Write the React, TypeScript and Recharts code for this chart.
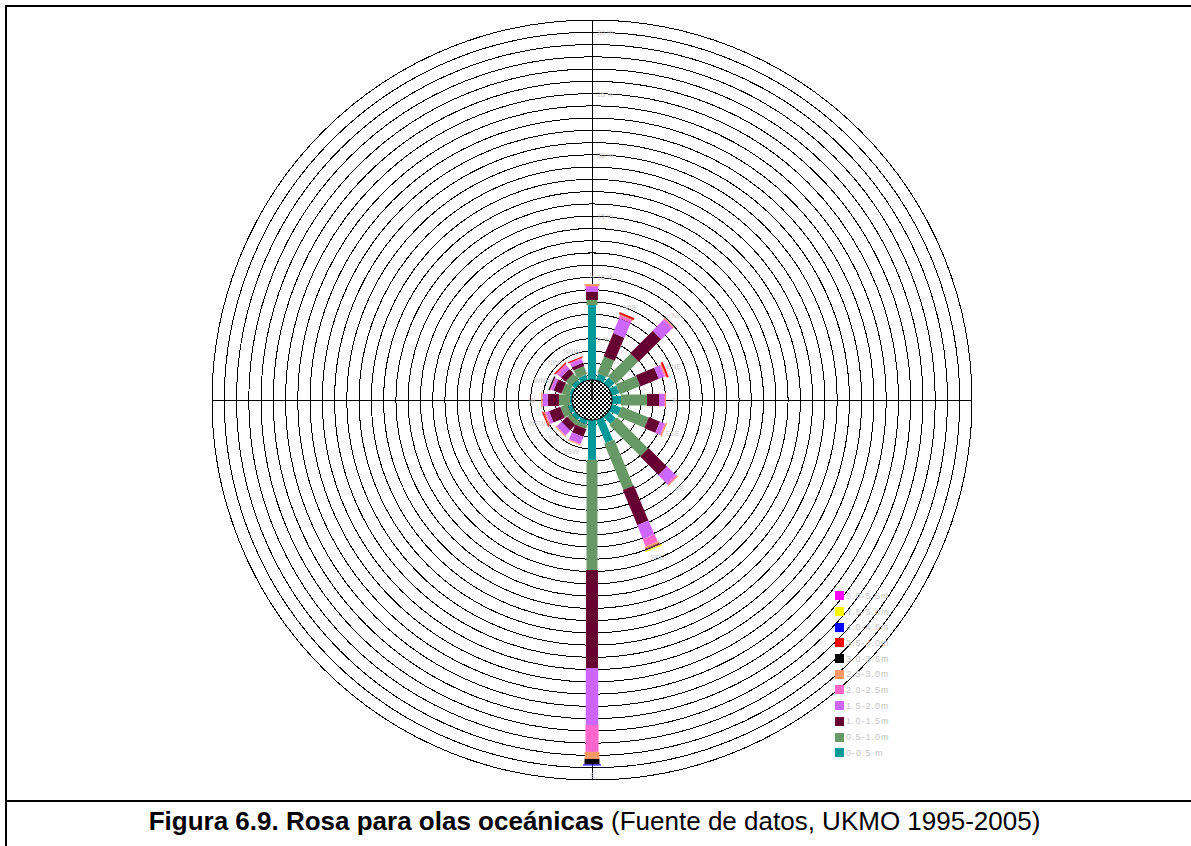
import { RadialBarChart, RadialBar, PolarGrid, PolarAngleAxis, PolarRadiusAxis, Legend, PieChart, Pie } from 'recharts';

// directions, clockwise from north
const directions = ['N', 'NNE', 'NE', 'ENE', 'E', 'ESE', 'SE', 'SSE', 'S', 'SSW', 'SW', 'WSW', 'W', 'WNW', 'NW', 'NNW'];

// frequency (%) per wave height class, one value per direction
const h00_05 = [7.75, 2.2, 2.28, 2.28, 2.37, 2.45, 2.45, 3.67, 4.89, 2.04, 2.0, 2.0, 1.8, 1.9, 2.0, 2.1];
const h05_10 = [0.41, 1.47, 2.61, 1.79, 2.12, 2.37, 3.59, 4.08, 8.98, 0.33, 0.4, 0.6, 0.9, 0.6, 0.6, 0.7];
const h10_15 = [0.65, 2.04, 2.61, 1.63, 0.98, 0.98, 2.12, 3.1, 7.99, 0.69, 0.6, 1.0, 0.9, 0.7, 0.5, 0.3];
const h15_20 = [0.41, 1.3, 1.22, 0.49, 0.41, 0.41, 0.98, 1.22, 4.65, 0.61, 0.55, 0.25, 0.4, 0.2, 0.3, 0.3];
const h20_25 = [0.08, 0.25, 0.16, 0.08, 0.08, 0.08, 0.16, 0.65, 2.2, 0.04, 0.05, 0.1, 0.05, 0.1, 0.2, 0.1];
const h25_30 = [0.16, 0.05, 0.08, 0.08, 0.08, 0.1, 0.08, 0.16, 0.57, 0.08, 0.08, 0.1, 0.1, 0, 0, 0];
const h30_35 = [0, 0.03, 0.08, 0, 0, 0, 0, 0.05, 0.41, 0, 0, 0, 0, 0.1, 0, 0];
const h35_40 = [0, 0.15, 0, 0.16, 0, 0, 0, 0.05, 0.03, 0, 0, 0.1, 0, 0, 0.1, 0.1];
const h40_45 = [0, 0, 0, 0, 0, 0, 0, 0.05, 0.1, 0, 0, 0, 0, 0, 0, 0];
const h45_50 = [0, 0, 0, 0, 0, 0, 0, 0.12, 0, 0, 0, 0, 0, 0, 0, 0];
const h50_55 = [0, 0, 0, 0, 0, 0, 0, 0, 0, 0, 0, 0, 0, 0, 0, 0];

const classNames = ['0-0.5 m', '0.5-1.0m', '1.0-1.5m', '1.5-2.0m', '2.0-2.5m', '2.5-3.0m', '3.0-3.5m', '3.5-4.0m', '4.0-4.5m', '4.5-5.0m', '5.0-5.5m'];
const classColors = ['#009999', '#669966', '#660033', '#CC66FF', '#FF66CC', '#FF9966', '#000000', '#FF0000', '#0000FF', '#FFFF00', '#FF00FF'];
const classWidths = [8, 11, 12, 12.5, 13, 15, 15, 16, 18, 18, 18];
const series = [h00_05, h05_10, h10_15, h15_20, h20_25, h25_30, h30_35, h35_40, h40_45, h45_50, h50_55];

const ringTicks = Array.from({ length: 31 }, (_, i) => i + 1);
const calm = [{ name: 'Calmas', value: 1 }];

const data = directions.map((dir, i) => {
  const row: Record<string, string | number> = { dir };
  series.forEach((s, k) => { row['c' + k] = s[i]; });
  return row;
});

const RAD = Math.PI / 180;

// straight bar of constant width along the middle angle of the sector
function barShape(width: number, withLabel: boolean) {
  return (props: any) => {
    const { cx, cy, innerRadius, outerRadius, startAngle, endAngle, fill, payload } = props;
    const a = -((startAngle + endAngle) / 2) * RAD;
    const ux = Math.cos(a);
    const uy = Math.sin(a);
    const nx = -uy;
    const ny = ux;
    const h = width / 2;
    const pt = (r: number, s: number) => `${cx + ux * r + nx * h * s},${cy + uy * r + ny * h * s}`;
    const lr = outerRadius + 9;
    return (
      <g>
        {outerRadius - innerRadius > 0.01 && (
          <polygon points={`${pt(innerRadius, -1)} ${pt(outerRadius, -1)} ${pt(outerRadius, 1)} ${pt(innerRadius, 1)}`} fill={fill} />
        )}
        {withLabel && payload && (
          <text x={cx + ux * lr} y={cy + uy * lr + 3} textAnchor="middle" fontSize={7} fill="#c8c8c8" fontFamily="Arial, 'Liberation Sans', sans-serif">
            {payload.dir}
          </text>
        )}
      </g>
    );
  };
}

const RingTick = (props: any) => {
  const { x, y, payload } = props;
  if (!payload || payload.value % 5 !== 0) return <g />;
  return (
    <text x={x + 5} y={y + 3} fontSize={7} fill="#c8c8c8" fontFamily="Arial, 'Liberation Sans', sans-serif">
      {payload.value} %
    </text>
  );
};

const LegendBox = () => (
  <div style={{ fontFamily: "Arial, 'Liberation Sans', sans-serif", fontSize: 9, color: '#c4c4c4', letterSpacing: 1 }}>
    {classNames.map((n, k) => ({ n, k })).reverse().map(({ n, k }) => (
      <div key={n} style={{ display: 'flex', alignItems: 'center', height: 15.7 }}>
        <span style={{ display: 'inline-block', width: 9, height: 9, background: classColors[k], marginRight: 2 }} />
        <span>{n}</span>
      </div>
    ))}
  </div>
);

export default function App() {
  return (
    <div style={{ position: 'absolute', left: 0, top: 0, width: 1191, height: 846, background: '#fff', overflow: 'hidden' }}>
      <div style={{ position: 'absolute', left: 5, top: 5, width: 1200, height: 860, borderLeft: '2px solid #000', borderTop: '2px solid #000' }} />
      <div style={{ position: 'absolute', left: 5, top: 800, width: 1200, height: 2, background: '#000' }} />

      <div style={{ position: 'absolute', left: 192, top: 0 }}>
        <RadialBarChart
          width={800}
          height={800}
          data={data}
          layout="centric"
          cx={400}
          cy={400}
          innerRadius={0}
          outerRadius={380}
          startAngle={78.75}
          endAngle={-281.25}
          margin={{ top: 0, right: 0, bottom: 0, left: 0 }}
        >
          <PolarGrid gridType="circle" stroke="#000" strokeWidth={1} polarAngles={[90, 0, -90, 180]} shapeRendering="crispEdges" />
          <PolarAngleAxis type="category" dataKey="dir" tick={false} tickLine={false} axisLine={false} />
          <PolarRadiusAxis type="number" domain={[0, 31]} ticks={ringTicks} angle={90} axisLine={false} tickLine={false} tick={<RingTick />} />
          {series.map((_, k) => (
            <RadialBar
              key={k}
              dataKey={'c' + k}
              name={classNames[k]}
              stackId="rose"
              fill={classColors[k]}
              shape={barShape(classWidths[k], k === series.length - 1)}
              isAnimationActive={false}
            />
          ))}
          <Legend layout="vertical" align="right" verticalAlign="top" wrapperStyle={{ left: 643, top: 588, width: 80 }} content={<LegendBox />} />
        </RadialBarChart>
      </div>

      <div style={{ position: 'absolute', left: 192, top: 0 }}>
        <PieChart width={800} height={800} margin={{ top: 0, right: 0, bottom: 0, left: 0 }}>
          <defs>
            <pattern id="checker" width={4} height={4} patternUnits="userSpaceOnUse">
              <rect width={4} height={4} fill="#fff" />
              <rect width={2} height={2} fill="#000" />
              <rect x={2} y={2} width={2} height={2} fill="#000" />
            </pattern>
          </defs>
          <Pie data={calm} dataKey="value" cx={400} cy={400} innerRadius={0} outerRadius={20} startAngle={90} endAngle={-270} fill="url(#checker)" stroke="#000" strokeWidth={1} isAnimationActive={false} />
        </PieChart>
      </div>

      <div style={{ position: 'absolute', left: 0, top: 799, width: 1191, height: 44, display: 'flex', alignItems: 'center', justifyContent: 'center', fontFamily: "Arial, 'Liberation Sans', sans-serif", fontSize: 26, color: '#000' }}>
        <span style={{ marginLeft: -2 }}>
          <b>Figura 6.9. Rosa para olas oceánicas</b> (Fuente de datos, UKMO 1995-2005)
        </span>
      </div>
    </div>
  );
}
